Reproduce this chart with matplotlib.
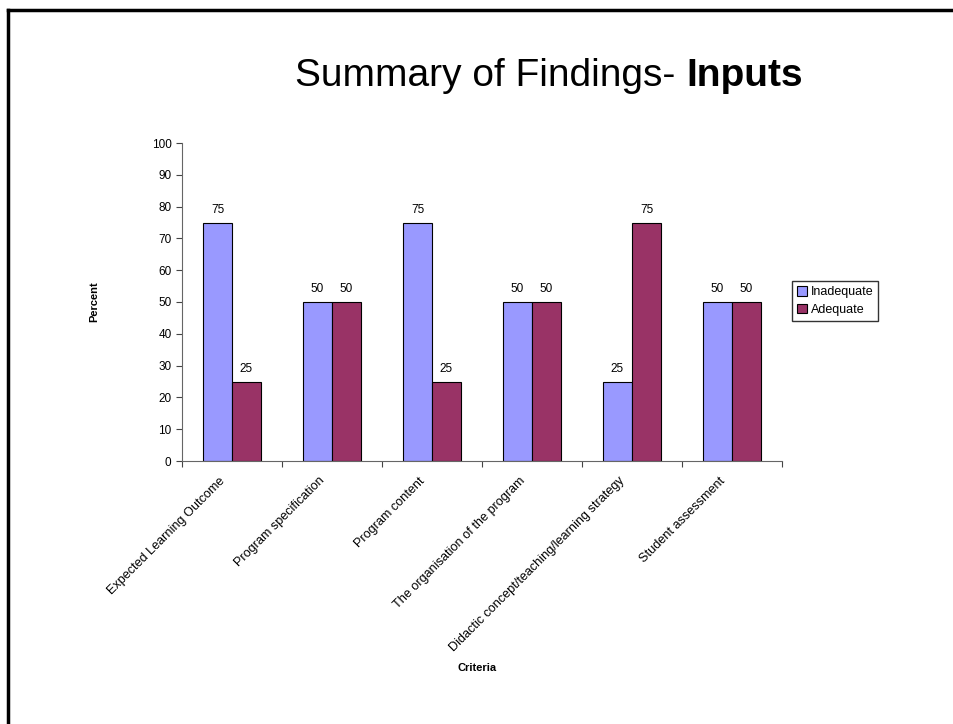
import numpy as np
import matplotlib.pyplot as plt
from matplotlib.lines import Line2D
from matplotlib.transforms import ScaledTranslation

criteria = [
    "Expected Learning Outcome",
    "Program specification",
    "Program content",
    "The organisation of the program",
    "Didactic concept/teaching/learning strategy",
    "Student assessment",
]
inadequate = [75, 50, 75, 50, 25, 50]
adequate = [25, 50, 25, 50, 75, 50]

plt.rcParams["font.family"] = ["Liberation Sans", "DejaVu Sans"]

fig = plt.figure(figsize=(9.54, 7.24), dpi=100)
ax = fig.add_axes([182 / 954, 263 / 724, 600 / 954, 318 / 724])

x = np.arange(len(criteria))
w = 0.29
b1 = ax.bar(x - w / 2, inadequate, w, color="#9999FF", edgecolor="black", lw=0.8, label="Inadequate")
b2 = ax.bar(x + w / 2, adequate, w, color="#993366", edgecolor="black", lw=0.8, label="Adequate")
for bars in (b1, b2):
    ax.bar_label(bars, padding=5, fontsize=8.5)

ax.set_xlim(-0.5, len(criteria) - 0.5)
ax.set_ylim(0, 100)
ax.set_yticks(range(0, 101, 10))
ax.tick_params(axis="y", labelsize=8.5, length=4, width=0.8, color="#444444", direction="out")
ax.set_xticks(np.arange(len(criteria) + 1) - 0.5)
ax.set_xticklabels([])
ax.tick_params(axis="x", length=4, width=0.8, color="#444444")
ax.set_xticks(x, minor=True)
ax.set_xticklabels(criteria, minor=True, rotation=45, ha="right", va="center",
                   rotation_mode="anchor", fontsize=9.1)
ax.tick_params(axis="x", which="minor", length=0, pad=13)
shift = ScaledTranslation(-9 / 100, 0, fig.dpi_scale_trans)
for lbl in ax.get_xticklabels(minor=True):
    lbl.set_transform(lbl.get_transform() + shift)

for s in ("top", "right"):
    ax.spines[s].set_visible(False)
ax.spines["left"].set_color("#666666")
ax.spines["bottom"].set_color("#666666")

ax.set_ylabel("Percent", fontsize=8, fontweight="bold", labelpad=38)
fig.text(477 / 954, 1 - 668 / 724, "Criteria", ha="center", va="center", fontsize=8, fontweight="bold")

ax.legend(loc="center left", bbox_to_anchor=(792 / 954, 1 - 301 / 724), bbox_transform=fig.transFigure,
          fontsize=9, frameon=True, fancybox=False, edgecolor="black", handlelength=0.8,
          handleheight=0.8, handletextpad=0.3, borderpad=0.4, labelspacing=0.45, borderaxespad=0)

# slide title, regular + bold part
t1 = fig.text(0, 1 - 76 / 724, "Summary of Findings- ", fontsize=28, va="center", ha="left")
t2 = fig.text(0, 1 - 76 / 724, "Inputs", fontsize=28, fontweight="bold", va="center", ha="left")
fig.canvas.draw()
r = fig.canvas.get_renderer()
w1 = t1.get_window_extent(r).width
w2 = t2.get_window_extent(r).width
x0 = 549 - (w1 + w2) / 2
t1.set_x(x0 / 954)
t2.set_x((x0 + w1) / 954)

# slide frame
fig.add_artist(Line2D([8 / 954, 8 / 954], [0, 1 - 10 / 724], color="black", lw=2.5, transform=fig.transFigure))
fig.add_artist(Line2D([8 / 954, 1], [1 - 10 / 724, 1 - 10 / 724], color="black", lw=2.5, transform=fig.transFigure))

fig.savefig("out.png", dpi=100)
